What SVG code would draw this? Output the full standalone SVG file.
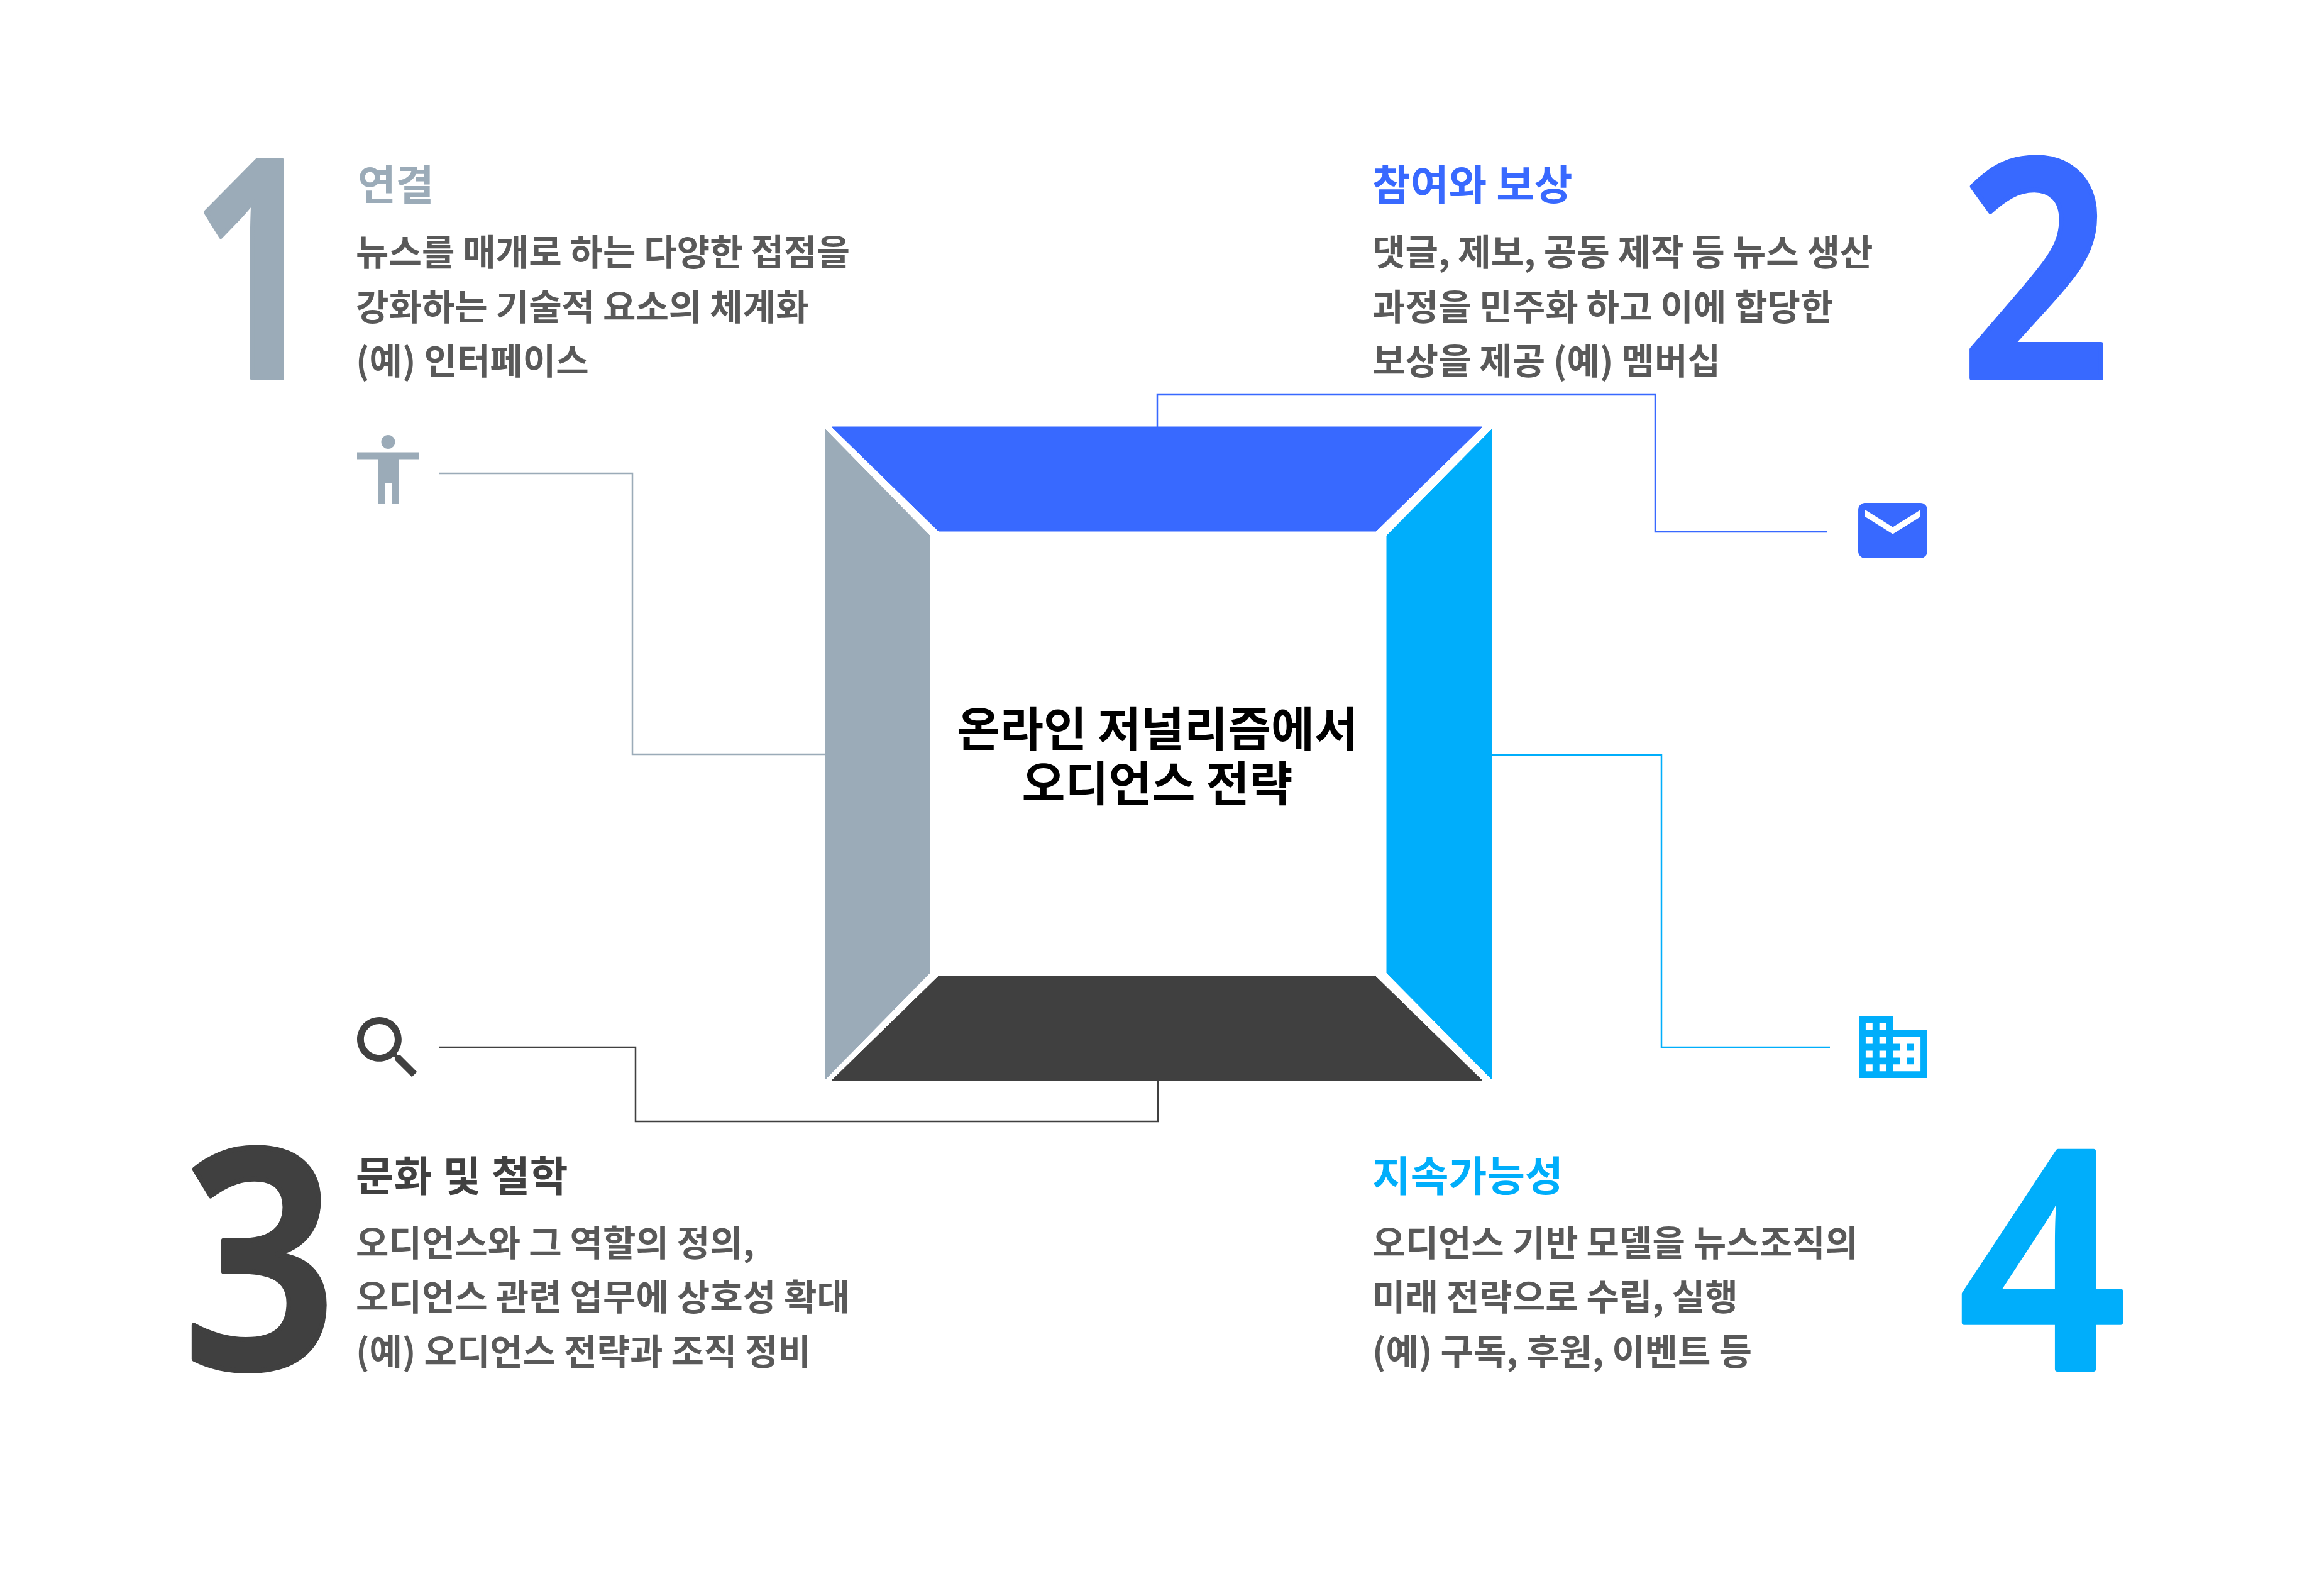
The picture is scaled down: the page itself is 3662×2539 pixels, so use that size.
<svg xmlns="http://www.w3.org/2000/svg" width="3662" height="2539" viewBox="0 0 3662 2539">
<style>
text{font-family:"Noto Sans CJK KR","Noto Sans",sans-serif}
.num{font-family:"Noto Sans",sans-serif;font-size:484px;font-weight:600;stroke-width:8;stroke-linejoin:round}
.head{font-size:66px;font-weight:700}
.body{font-size:57px;font-weight:700;fill:#595959}
.center{font-size:75px;font-weight:700;fill:#000;text-anchor:middle}
.grey{fill:#9BABB8;stroke:#9BABB8}.blue{fill:#3869FF;stroke:#3869FF}.cyan{fill:#00AEFB;stroke:#00AEFB}.dark{fill:#404040;stroke:#404040}
.head,path.grey,path.blue,path.cyan,path.dark,polygon{stroke:none}
.c{fill:none;stroke-width:2.5}
</style>
<rect width="3662" height="2539" fill="#fff"/>
<g id="connectors">
<path class="c" stroke="#9BABB8" d="M698 753H1006V1200H1313"/>
<path class="c" stroke="#3869FF" d="M1841 679V628H2633V846H2906"/>
<path class="c" stroke="#404040" d="M698 1666H1011V1784H1842V1719"/>
<path class="c" stroke="#00AEFB" d="M2373 1201H2643V1666H2911"/>
</g>
<g id="frame">
<polygon class="blue" points="1323,679 2358,679 2189,845 1493,845"/>
<polygon class="grey" points="1313,683 1479,852 1479,1548 1313,1717"/>
<polygon class="cyan" points="2373,683 2206,852 2206,1548 2373,1717"/>
<polygon class="dark" points="1323,1719 2358,1719 2188,1553 1493,1553"/>
</g>
<g id="center"><text class="center"><tspan x="1841" y="1187">온라인 저널리즘에서</tspan><tspan x="1841" y="1274">오디언스 전략</tspan></text></g>
<g id="node1">
<text class="num grey" transform="translate(301 601) scale(.78 1)">1</text>
<text class="head grey" x="569" y="318">연결</text>
<text class="body" x="566" y="422">뉴스를 매개로 하는 다양한 접점을</text>
<text class="body" x="566" y="509">강화하는 기술적 요소의 체계화</text>
<text class="body" x="566" y="595">(예) 인터페이스</text>
<path class="grey" transform="translate(551.5 681) scale(5.5)" d="M12 2c1.1 0 2 .9 2 2s-.9 2-2 2-2-.9-2-2 .9-2 2-2zm9 7h-6v13h-2v-6h-2v6H9V9H3V7h18v2z"/>
</g>
<g id="node2">
<text class="num blue" transform="translate(3118.5 601) scale(.87 1)">2</text>
<text class="head blue" x="2183" y="318">참여와 보상</text>
<text class="body" x="2183" y="422">댓글, 제보, 공동 제작 등 뉴스 생산</text>
<text class="body" x="2183" y="509">과정을 민주화 하고 이에 합당한</text>
<text class="body" x="2183" y="595">보상을 제공 (예) 멤버십</text>
<path class="blue" transform="translate(2945 778) scale(5.5)" d="M20 4H4c-1.1 0-1.99.9-1.99 2L2 18c0 1.1.9 2 2 2h16c1.1 0 2-.9 2-2V6c0-1.1-.9-2-2-2zm0 4l-8 5-8-5V6l8 5 8-5v2z"/>
</g>
<g id="node3">
<text class="num dark" transform="translate(291 2176) scale(.885 1)">3</text>
<text class="head dark" x="566" y="1895" word-spacing="2">문화 및 철학</text>
<text class="body" x="566" y="1998">오디언스와 그 역할의 정의,</text>
<text class="body" x="566" y="2084">오디언스 관련 업무에 상호성 확대</text>
<text class="body" x="566" y="2171">(예) 오디언스 전략과 조직 정비</text>
<path class="dark" transform="translate(551.65 1601.65) scale(5.45)" d="M15.5 14h-.79l-.28-.27C15.41 12.59 16 11.11 16 9.5 16 5.91 13.09 3 9.5 3S3 5.91 3 9.5 5.91 16 9.5 16c1.61 0 3.09-.59 4.23-1.57l.27.28v.79l5 4.99L20.49 19l-4.99-5zm-6 0C7.01 14 5 11.99 5 9.5S7.01 5 9.5 5 14 7.01 14 9.5 11.99 14 9.5 14z"/>
</g>
<g id="node4">
<text class="num cyan" transform="translate(3116 2178) scale(.96 1)">4</text>
<text class="head cyan" x="2183" y="1895">지속가능성</text>
<text class="body" x="2183" y="1998">오디언스 기반 모델을 뉴스조직의</text>
<text class="body" x="2183" y="2084">미래 전략으로 수립, 실행</text>
<text class="body" x="2183" y="2171">(예) 구독, 후원, 이벤트 등</text>
<path class="cyan" transform="translate(2946.1 1600.65) scale(5.45)" d="M12 7V3H2v18h20V7H12zM6 19H4v-2h2v2zm0-4H4v-2h2v2zm0-4H4V9h2v2zm0-4H4V5h2v2zm4 12H8v-2h2v2zm0-4H8v-2h2v2zm0-4H8V9h2v2zm0-4H8V5h2v2zm10 12h-8v-2h2v-2h-2v-2h2v-2h-2V9h8v10zm-2-8h-2v2h2v-2zm0 4h-2v2h2v-2z"/>
</g>
</svg>
